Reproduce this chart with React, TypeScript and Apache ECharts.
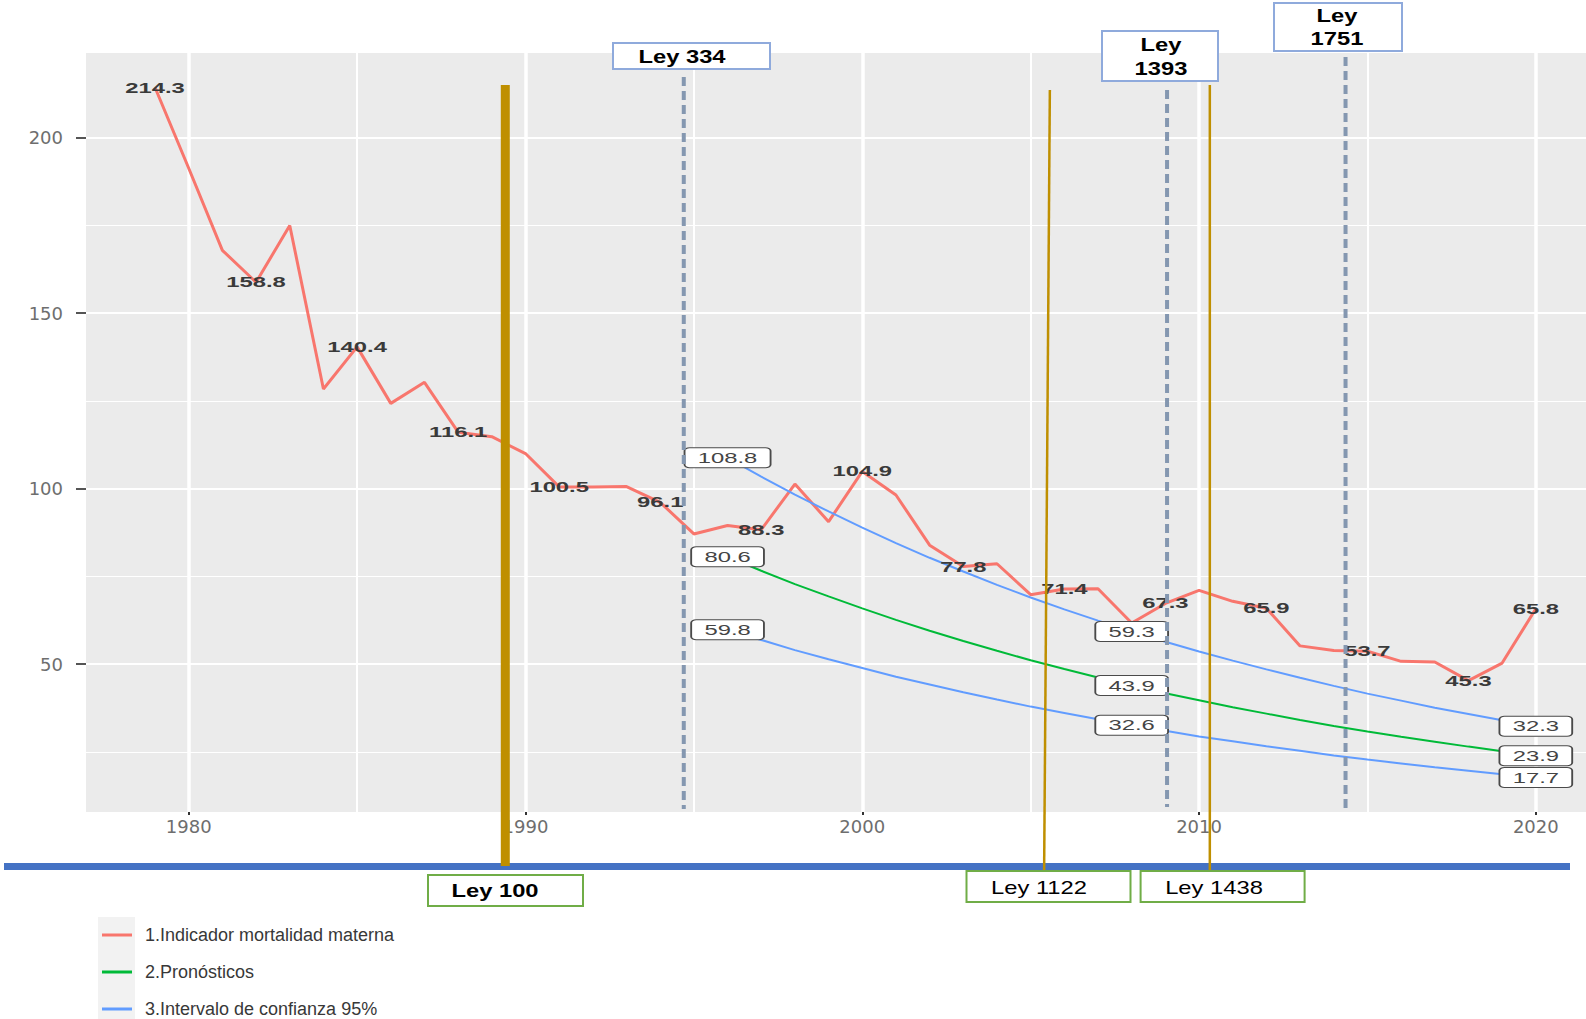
import React, { useEffect, useRef } from "react";
import * as echarts from "echarts";

// ---------- data ----------
const years = [
  1979, 1980, 1981, 1982, 1983, 1984, 1985, 1986, 1987, 1988, 1989, 1990, 1991, 1992,
  1993, 1994, 1995, 1996, 1997, 1998, 1999, 2000, 2001, 2002, 2003, 2004, 2005, 2006,
  2007, 2008, 2009, 2010, 2011, 2012, 2013, 2014, 2015, 2016, 2017, 2018, 2019, 2020,
];
const mortality = [
  214.3, 191.3, 167.9, 158.8, 175.0, 128.4, 140.4, 124.3, 130.3, 116.1, 114.8, 110.0, 100.5, 100.5,
  100.6, 96.1, 87.1, 89.5, 88.3, 101.3, 90.6, 104.9, 98.2, 83.9, 77.8, 78.6, 69.8, 71.4,
  71.5, 61.7, 67.3, 71.0, 67.9, 65.9, 55.2, 53.9, 53.7, 50.8, 50.6, 45.3, 50.3, 65.8,
];
const forecastYears = [
  1996, 1997, 1998, 1999, 2000, 2001, 2002, 2003, 2004, 2005, 2006, 2007, 2008,
  2009, 2010, 2011, 2012, 2013, 2014, 2015, 2016, 2017, 2018, 2019, 2020,
];
const forecast = [
  80.6, 76.6, 72.8, 69.3, 65.9, 62.6, 59.5, 56.6, 53.8, 51.1, 48.6, 46.2, 43.9,
  41.7, 39.7, 37.7, 35.9, 34.1, 32.4, 30.8, 29.3, 27.9, 26.5, 25.2, 23.9,
];
const upperBound = [
  108.8, 103.4, 98.3, 93.5, 88.9, 84.5, 80.3, 76.4, 72.6, 69.0, 65.6, 62.4, 59.3,
  56.4, 53.6, 51.0, 48.5, 46.1, 43.8, 41.6, 39.6, 37.6, 35.8, 34.0, 32.3,
];
const lowerBound = [
  59.8, 56.9, 54.0, 51.4, 48.9, 46.4, 44.2, 42.0, 39.9, 37.9, 36.1, 34.3, 32.6,
  31.0, 29.4, 28.0, 26.6, 25.3, 24.0, 22.8, 21.7, 20.6, 19.6, 18.6, 17.7,
];
const mortalityLabelYears = [1979, 1982, 1985, 1988, 1991, 1994, 1997, 2000, 2003, 2006, 2009, 2012, 2015, 2018, 2020];
const forecastLabelYears = [1996, 2008, 2020];

const xTicks = [1980, 1990, 2000, 2010, 2020];
const xMinorTicks = [1985, 1995, 2005, 2015];
const yTicks = [50, 100, 150, 200];
const yMinorTicks = [25, 75, 125, 175];
// the reference picture is cropped on the right: the visible panel ends near 2021.5
const xVisibleMax = 2021.49;

const seriesNames = [
  "1.Indicador mortalidad materna",
  "2.Pronósticos",
  "3.Intervalo de confianza 95%",
];

const lawNames = ["Ley 100", "Ley 334", "Ley 1122", "Ley 1393", "Ley 1438", "Ley 1751"];
const lawYears = [1989.4, 1994.7, 2005.57, 2009.05, 2010.32, 2014.35];

// ---------- derived ----------
const allValues = [...mortality, ...forecast, ...upperBound, ...lowerBound];
const dataMinY = Math.min(...allValues);
const dataMaxY = Math.max(...allValues);
const X_MIN = years[0] - 0.05 * (years[years.length - 1] - years[0]);
const X_MAX = xVisibleMax;
const Y_MIN = dataMinY - 0.05 * (dataMaxY - dataMinY);
const Y_MAX = dataMaxY + 0.05 * (dataMaxY - dataMinY);

const pointLabels = mortalityLabelYears.map((yr) => ({ x: yr, y: mortality[years.indexOf(yr)] }));
const boxLabels: { x: number; y: number }[] = [];
forecastLabelYears.forEach((yr) => {
  const i = forecastYears.indexOf(yr);
  [upperBound, forecast, lowerBound].forEach((arr) => boxLabels.push({ x: yr, y: arr[i] }));
});

const SANS = '"Liberation Sans", Arial, sans-serif';
const WIDE = '"DejaVu Sans", Verdana, sans-serif';
const STRETCH = 1.7;

export default function App() {
  const ref = useRef<HTMLDivElement>(null);

  useEffect(() => {
    if (!ref.current) return;
    const chart = echarts.init(ref.current, null, { renderer: "svg" });

    const option: any = {
      animation: false,
      backgroundColor: "#ffffff",
      grid: {
        left: 86,
        top: 53,
        right: 0,
        height: 759,
        show: true,
        backgroundColor: "#EBEBEB",
        borderWidth: 0,
      },
      legend: {
        data: seriesNames.map((n) => ({ name: n, icon: "rect" })),
        orient: "vertical",
        left: 102,
        top: 926,
        itemWidth: 30,
        itemHeight: 3,
        itemGap: 19,
        padding: 0,
        z: 5,
        textStyle: { fontSize: 18, fontFamily: SANS, color: "#383838", padding: [0, 0, 0, 8] },
      },
      xAxis: [
        {
          type: "value",
          min: X_MIN,
          max: X_MAX,
          axisLine: { show: false },
          axisTick: { show: true, customValues: xTicks, length: 3, lineStyle: { color: "#333333", width: 2 } },
          axisLabel: {
            customValues: xTicks,
            margin: 5,
            fontSize: 18,
            fontFamily: WIDE,
            color: "#6e6e6e",
            formatter: (v: number) => String(v),
          },
          splitLine: { show: true, lineStyle: { color: "#ffffff", width: 3.5 } },
        },
        {
          type: "value",
          min: X_MIN,
          max: X_MAX,
          position: "bottom",
          axisLine: { show: false },
          axisTick: { show: false, customValues: xMinorTicks },
          axisLabel: { show: false, customValues: xMinorTicks },
          splitLine: { show: true, lineStyle: { color: "#ffffff", width: 2 } },
        },
      ],
      yAxis: [
        {
          type: "value",
          min: Y_MIN,
          max: Y_MAX,
          axisLine: { show: false },
          axisTick: { show: true, customValues: yTicks, length: 10, lineStyle: { color: "#555555", width: 2 } },
          axisLabel: {
            customValues: yTicks,
            margin: 23,
            fontSize: 18,
            fontFamily: WIDE,
            color: "#6e6e6e",
            formatter: (v: number) => String(v),
          },
          splitLine: { show: true, lineStyle: { color: "#ffffff", width: 2 } },
        },
        {
          type: "value",
          min: Y_MIN,
          max: Y_MAX,
          position: "left",
          axisLine: { show: false },
          axisTick: { show: false, customValues: yMinorTicks },
          axisLabel: { show: false, customValues: yMinorTicks },
          splitLine: { show: true, lineStyle: { color: "#ffffff", width: 1 } },
        },
      ],
      series: [
        {
          type: "line",
          name: seriesNames[0],
          data: years.map((y, i) => [y, mortality[i]]),
          showSymbol: false,
          lineStyle: { color: "#F8766D", width: 3 },
          itemStyle: { color: "#F8766D" },
          z: 3,
        },
        {
          type: "line",
          name: seriesNames[1],
          data: forecastYears.map((y, i) => [y, forecast[i]]),
          showSymbol: false,
          lineStyle: { color: "#00BA38", width: 2 },
          itemStyle: { color: "#00BA38" },
          z: 3,
        },
        {
          type: "line",
          name: seriesNames[2],
          data: forecastYears.map((y, i) => [y, upperBound[i]]),
          showSymbol: false,
          lineStyle: { color: "#619CFF", width: 2 },
          itemStyle: { color: "#619CFF" },
          z: 3,
        },
        {
          type: "line",
          name: seriesNames[2],
          data: forecastYears.map((y, i) => [y, lowerBound[i]]),
          showSymbol: false,
          lineStyle: { color: "#619CFF", width: 2 },
          itemStyle: { color: "#619CFF" },
          z: 3,
        },
        {
          type: "custom",
          name: "pointLabels",
          silent: true,
          z: 10,
          data: pointLabels.map((p) => [p.x, p.y]),
          encode: { x: 0, y: 1 },
          renderItem: (params: any, api: any) => {
            const v = pointLabels[params.dataIndex];
            const c = api.coord([v.x, v.y]);
            return {
              type: "text",
              x: c[0],
              y: c[1],
              scaleX: STRETCH,
              style: {
                text: v.y.toFixed(1),
                fill: "#3a3a3a",
                fontSize: 14,
                fontWeight: "bold",
                fontFamily: SANS,
                align: "center",
                verticalAlign: "middle",
              },
            };
          },
        },
        {
          type: "custom",
          name: "boxLabels",
          silent: true,
          z: 11,
          data: boxLabels.map((p) => [p.x, p.y]),
          encode: { x: 0, y: 1 },
          renderItem: (params: any, api: any) => {
            const v = boxLabels[params.dataIndex];
            const c = api.coord([v.x, v.y]);
            const text = v.y.toFixed(1);
            const digits = text.replace(".", "").length;
            const w = digits * 7.8 + 3.9 + 15.5;
            return {
              type: "group",
              x: c[0],
              y: c[1],
              scaleX: STRETCH,
              children: [
                {
                  type: "rect",
                  shape: { x: -w / 2, y: -10, width: w, height: 20, r: 3 },
                  style: { fill: "#ffffff", stroke: "#4a4a4a", lineWidth: 1.1 },
                },
                {
                  type: "text",
                  x: 0,
                  y: 0,
                  style: {
                    text,
                    fill: "#444444",
                    fontSize: 14,
                    fontFamily: SANS,
                    align: "center",
                    verticalAlign: "middle",
                  },
                },
              ],
            };
          },
        },
      ],
    };

    chart.setOption(option);

    // ---------- annotation overlay (laws) ----------
    const px = (yr: number) => chart.convertToPixel({ xAxisIndex: 0 }, yr) as number;
    const GOLD = "#BF8F00";
    const DASH = "#8497B0";
    const lawLineStyle = [
      { color: GOLD, width: 9, dash: null, top: 85, bottom: 866, slant: 0 },
      { color: DASH, width: 4, dash: [9, 5], top: 77, bottom: 809, slant: 0 },
      { color: GOLD, width: 2.5, dash: null, top: 90, bottom: 871, slant: -0.17 },
      { color: DASH, width: 4, dash: [9, 5], top: 90, bottom: 807, slant: 0 },
      { color: GOLD, width: 2.5, dash: null, top: 85, bottom: 871, slant: 0 },
      { color: DASH, width: 4, dash: [9, 5], top: 57, bottom: 810, slant: 0 },
    ];
    const BLUE_BOX = "#8FAADC";
    const GREEN_BOX = "#70AD47";
    const lawBoxStyle = [
      { rect: [428, 875, 155, 31], stroke: GREEN_BOX, bold: true, twoLine: false, tx: 495, ty: [891] },
      { rect: [613, 43, 157, 26], stroke: BLUE_BOX, bold: true, twoLine: false, tx: 682, ty: [57] },
      { rect: [966.5, 871, 164, 31], stroke: GREEN_BOX, bold: false, twoLine: false, tx: 1039, ty: [888] },
      { rect: [1102, 31, 116, 50], stroke: BLUE_BOX, bold: true, twoLine: true, tx: 1161, ty: [45, 69] },
      { rect: [1140.6, 871, 164, 31], stroke: GREEN_BOX, bold: false, twoLine: false, tx: 1214, ty: [888] },
      { rect: [1274, 3, 128, 48], stroke: BLUE_BOX, bold: true, twoLine: true, tx: 1337, ty: [16, 39] },
    ];

    const graphic: any[] = [];
    // legend key background
    graphic.push({
      type: "rect",
      z: 0,
      shape: { x: 98, y: 917, width: 37, height: 102 },
      style: { fill: "#F2F2F2" },
    });
    // horizontal blue bar
    graphic.push({
      type: "rect",
      z: 100,
      shape: { x: 4, y: 863, width: 1566, height: 7 },
      style: { fill: "#4472C4" },
    });
    lawYears.forEach((yr, i) => {
      const s = lawLineStyle[i];
      graphic.push({
        type: "line",
        z: 101,
        shape: { x1: px(yr), y1: s.top, x2: px(yr + s.slant), y2: s.bottom },
        style: { stroke: s.color, lineWidth: s.width, lineDash: s.dash || undefined },
      });
    });
    lawNames.forEach((name, i) => {
      const b = lawBoxStyle[i];
      graphic.push({
        type: "rect",
        z: 102,
        shape: { x: b.rect[0], y: b.rect[1], width: b.rect[2], height: b.rect[3] },
        style: { fill: "#ffffff", stroke: b.stroke, lineWidth: 2 },
      });
      const lines = b.twoLine ? name.split(" ") : [name];
      lines.forEach((t, j) => {
        graphic.push({
          type: "text",
          z: 103,
          x: b.tx,
          y: b.ty[j],
          scaleX: 1.25,
          style: {
            text: t,
            fill: "#000000",
            fontSize: 19,
            fontWeight: b.bold ? "bold" : "normal",
            fontFamily: SANS,
            align: "center",
            verticalAlign: "middle",
          },
        });
      });
    });

    chart.setOption({ graphic });

    return () => chart.dispose();
  }, []);

  return (
    <div
      ref={ref}
      style={{ position: "fixed", left: 0, top: 0, width: 1586, height: 1019, background: "#ffffff" }}
    />
  );
}
